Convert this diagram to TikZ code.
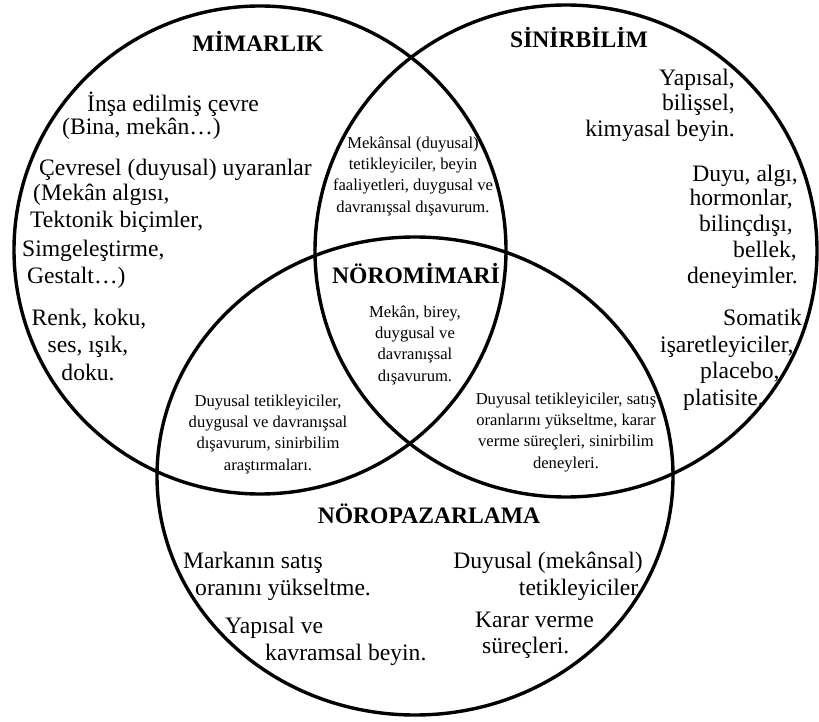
\documentclass[tikz,border=0pt]{standalone}
\usepackage{fontspec}
\setmainfont{Liberation Serif}
\usepackage{tikz}

\tikzset{
  ring/.style={line width=3.4pt},
  big/.style={font=\fontsize{23.6}{25.5}\selectfont, inner sep=0pt},
  title/.style={font=\fontsize{23.6}{25.5}\selectfont\bfseries, inner sep=0pt, anchor=base},
  small/.style={font=\fontsize{16.6}{21.2}\selectfont, inner sep=0pt, align=center, anchor=base}
}

\begin{document}
\begin{tikzpicture}[x=1pt,y=-1pt]
\useasboundingbox (0,0) rectangle (819,722);
% the three sets
\draw[ring] (260,250) ellipse [x radius=246, y radius=244];
\draw[ring] (566,251) ellipse [x radius=251, y radius=246];
\draw[ring] (415,476) ellipse [x radius=258, y radius=239];
% titles
\node[title] (mimarlik) at (258,52) {MİMARLIK};
\node[title] (sinirbilim) at (579,48) {SİNİRBİLİM};
\node[title] (noromimari) at (416,283) {NÖROMİMARİ};
\node[title] (noropazarlama) at (429,523) {NÖROPAZARLAMA};
% mimarlik
\node[big, anchor=base west] (m1) at (87,112) {İnşa edilmiş çevre};
\node[big, anchor=base west] (m2) at (62,135) {(Bina, mekân…)};
\node[big, anchor=base west] (m3) at (39,176) {Çevresel (duyusal) uyaranlar};
\node[big, anchor=base west] (m4) at (33,201) {(Mekân algısı,};
\node[big, anchor=base west] (m5) at (30,227) {Tektonik biçimler,};
\node[big, anchor=base west] (m6) at (22,256) {Simgeleştirme,};
\node[big, anchor=base west] (m7) at (27,283) {Gestalt…)};
\node[big, anchor=base] (m8) at (89,325) {Renk, koku,};
\node[big, anchor=base] (m9) at (88,352) {ses, ışık,};
\node[big, anchor=base] (m10) at (88,380) {doku.};
% sinirbilim
\node[big, anchor=base east] (s1) at (735,86) {Yapısal,};
\node[big, anchor=base east] (s2) at (735,111) {bilişsel,};
\node[big, anchor=base east] (s3) at (735,137) {kimyasal beyin.};
\node[big, anchor=base east] (s4) at (798,182) {Duyu, algı,};
\node[big, anchor=base east] (s5) at (793,206) {hormonlar,};
\node[big, anchor=base east] (s6) at (793,231) {bilinçdışı,};
\node[big, anchor=base east] (s7) at (797,257) {bellek,};
\node[big, anchor=base east] (s8) at (798,283) {deneyimler.};
\node[big, anchor=base west] (s9) at (723,325) {Somatik};
\node[big, anchor=base west] (s10) at (660,352) {işaretleyiciler,};
\node[big, anchor=base west] (s11) at (700,378) {placebo,};
\node[big, anchor=base west] (s12) at (683,405) {platisite.};
% noropazarlama
\node[big, anchor=base west] (p1) at (183,568) {Markanın satış};
\node[big, anchor=base west] (p2) at (195,595) {oranını yükseltme.};
\node[big, anchor=base west] (p3) at (225,633) {Yapısal ve};
\node[big, anchor=base west] (p4) at (265,660) {kavramsal beyin.};
\node[big, anchor=base east] (p5) at (643,568) {Duyusal (mekânsal)};
\node[big, anchor=base east] (p6) at (643,595) {tetikleyiciler.};
\node[big, anchor=base west] (p7) at (475,627) {Karar verme};
\node[big, anchor=base west] (p8) at (482,653) {süreçleri.};
% kesisimler
\node[small] (ms) at (413,212) {Mekânsal (duyusal)\\tetikleyiciler, beyin\\faaliyetleri, duygusal ve\\davranışsal dışavurum.};
\node[small] (orta) at (415,381) {Mekân, birey,\\duygusal ve\\davranışsal\\dışavurum.};
\node[small] (mp) at (268,470) {Duyusal tetikleyiciler,\\duygusal ve davranışsal\\dışavurum, sinirbilim\\araştırmaları.};
\node[small] (sp) at (566,468) {Duyusal tetikleyiciler, satış\\oranlarını yükseltme, karar\\verme süreçleri, sinirbilim\\deneyleri.};
\end{tikzpicture}
\end{document}
